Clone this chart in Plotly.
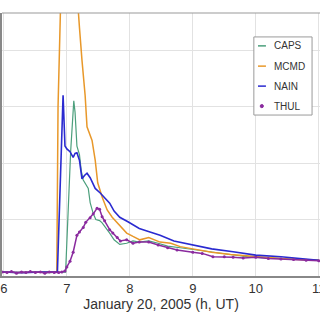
import plotly.graph_objects as go

# Time (h, UT) and value (arbitrary units, grid step = 1)
caps_t = [5.97, 6.2, 6.45, 6.7, 6.98, 7.0, 7.03, 7.06, 7.09, 7.11, 7.13, 7.16, 7.2, 7.23, 7.26, 7.3, 7.34, 7.37,
          7.42, 7.46, 7.52, 7.56, 7.62, 7.68, 7.75, 7.84, 7.95, 8.05, 8.15, 8.3, 8.45, 8.6, 8.8, 9.0, 9.2, 9.4,
          9.6, 9.8, 10.0, 10.3, 10.6, 11.0]
caps_v = [0.07, 0.06, 0.07, 0.06, 0.07, 0.5, 1.4, 2.2, 2.8, 3.1, 2.9, 2.3, 2.15, 1.85, 1.7, 1.62, 1.55, 1.3,
          1.1, 1.0, 0.98, 0.94, 0.86, 0.76, 0.64, 0.56, 0.58, 0.62, 0.6, 0.62, 0.58, 0.53, 0.5, 0.47, 0.44, 0.4,
          0.37, 0.35, 0.33, 0.31, 0.3, 0.28]

mcmd_t = [5.97, 6.3, 6.6, 6.84, 6.86, 6.88, 6.95, 7.1, 7.17, 7.2, 7.24, 7.29, 7.32, 7.36, 7.4, 7.45, 7.49, 7.56,
          7.64, 7.72, 7.8, 7.95, 8.05, 8.16, 8.3, 8.48, 8.65, 8.8, 9.0, 9.3, 9.6, 10.0, 10.5, 11.0]
mcmd_v = [0.07, 0.06, 0.07, 0.07, 3.0, 5.5, 7.0, 6.0, 4.8, 4.4, 3.82, 3.2, 2.64, 2.5, 2.4, 2.05, 1.65, 1.4,
          1.17, 1.04, 0.94, 0.76, 0.7, 0.64, 0.68, 0.6, 0.58, 0.52, 0.48, 0.42, 0.38, 0.35, 0.3, 0.28]

nain_t = [5.97, 6.3, 6.6, 6.85, 6.9, 6.94, 6.97, 7.0, 7.05, 7.1, 7.13, 7.16, 7.2, 7.24, 7.28, 7.32, 7.37, 7.45,
          7.53, 7.6, 7.68, 7.75, 7.84, 7.97, 8.05, 8.15, 8.32, 8.48, 8.7, 9.0, 9.3, 9.64, 10.0, 10.4, 10.7, 11.0]
nain_v = [0.07, 0.06, 0.07, 0.07, 1.8, 3.2, 2.3, 2.25, 2.2, 2.1, 2.17, 2.18, 2.05, 1.72, 1.78, 1.82, 1.74, 1.55,
          1.47, 1.38, 1.29, 1.15, 1.04, 0.96, 0.9, 0.84, 0.78, 0.72, 0.62, 0.55, 0.48, 0.43, 0.37, 0.34, 0.31, 0.28]

thul_t = [5.97, 6.05, 6.12, 6.2, 6.28, 6.35, 6.42, 6.5, 6.58, 6.65, 6.72, 6.8, 6.87, 6.92, 6.97, 7.0, 7.05, 7.1,
          7.16, 7.2, 7.26, 7.3, 7.37, 7.42, 7.48, 7.52, 7.56, 7.6, 7.68, 7.73, 7.8, 7.85, 7.95, 8.05, 8.15, 8.3,
          8.45, 8.6, 8.75, 9.0, 9.15, 9.32, 9.5, 9.64, 9.8, 10.0, 10.2, 10.4, 10.6, 10.8, 11.0]
thul_v = [0.07, 0.06, 0.08, 0.05, 0.07, 0.06, 0.08, 0.06, 0.07, 0.05, 0.07, 0.06, 0.06, 0.07, 0.09, 0.16, 0.26,
          0.42, 0.72, 0.78, 0.86, 0.95, 1.03, 1.1, 1.2, 1.18, 1.05, 0.98, 0.82, 0.76, 0.68, 0.62, 0.64, 0.58, 0.6,
          0.6, 0.55, 0.5, 0.46, 0.42, 0.4, 0.34, 0.34, 0.33, 0.32, 0.33, 0.31, 0.3, 0.29, 0.28, 0.27]

x_ticks = [6, 7, 8, 9, 10, 11]
names = ["CAPS", "MCMD", "NAIN", "THUL"]
colors = ["#4c9f7c", "#e8982a", "#2a2ad0", "#8a2a9e"]

fig = go.Figure()
fig.add_trace(go.Scatter(x=caps_t, y=caps_v, name=names[0], mode="lines",
                         line=dict(color=colors[0], width=1.2)))
fig.add_trace(go.Scatter(x=mcmd_t, y=mcmd_v, name=names[1], mode="lines",
                         line=dict(color=colors[1], width=1.5)))
fig.add_trace(go.Scatter(x=nain_t, y=nain_v, name=names[2], mode="lines",
                         line=dict(color=colors[2], width=1.6)))
fig.add_trace(go.Scatter(x=thul_t, y=thul_v, name=names[3], mode="lines+markers",
                         line=dict(color=colors[3], width=1.5),
                         marker=dict(color=colors[3], size=3)))

fig.update_layout(
    width=320, height=320,
    margin=dict(l=2, r=0, t=13, b=44),
    paper_bgcolor="white", plot_bgcolor="white",
    font=dict(family="Liberation Sans, Arial, sans-serif", color="#333333", size=12),
    showlegend=False,
    xaxis=dict(range=[5.97, 11.02], tickvals=x_ticks, ticktext=[str(v) for v in x_ticks],
               showgrid=True, gridcolor="#e2e2e2", gridwidth=1, automargin=False,
               showline=True, linecolor="#888888", linewidth=1.5, mirror=False,
               ticks="", tickfont=dict(size=13), zeroline=False, ticklabeloverflow="allow",
               title=dict(text="January 20, 2005 (h, UT)", font=dict(size=14), standoff=4)),
    yaxis=dict(range=[0, 4.655], tickvals=[0, 1, 2, 3, 4], showticklabels=False,
               showgrid=True, gridcolor="#e2e2e2", gridwidth=1, automargin=False,
               showline=True, linecolor="#888888", linewidth=3, mirror=False,
               ticks="", zeroline=False),
)
# top frame line
fig.add_shape(type="line", xref="paper", yref="paper", x0=0, x1=1, y0=1, y1=1,
              line=dict(color="#999999", width=1))

# compact legend box (layout decoration)
fig.add_shape(type="rect", xref="paper", yref="paper", x0=0.792, x1=0.975, y0=0.612, y1=0.909,
              line=dict(color="#9a9a9a", width=1), fillcolor="white", layer="above")
legend_y = [0.875, 0.798, 0.722, 0.646]
for i, (nm, col) in enumerate(zip(names, colors)):
    if nm == "THUL":
        fig.add_shape(type="circle", xref="paper", yref="paper",
                      x0=0.812, x1=0.822, y0=legend_y[i] - 0.006, y1=legend_y[i] + 0.006,
                      line=dict(color=col, width=1), fillcolor=col, layer="above")
    else:
        fig.add_shape(type="line", xref="paper", yref="paper", x0=0.805, x1=0.83,
                      y0=legend_y[i], y1=legend_y[i], line=dict(color=col, width=1.5), layer="above")
    fig.add_annotation(text=nm, xref="paper", yref="paper", x=0.848, y=legend_y[i],
                       xanchor="left", yanchor="middle", showarrow=False,
                       font=dict(size=10, color="#333333"))

fig.write_html("out.html", config={"displayModeBar": False},
               post_script="document.body.style.margin='0';document.body.style.overflow='hidden';")
